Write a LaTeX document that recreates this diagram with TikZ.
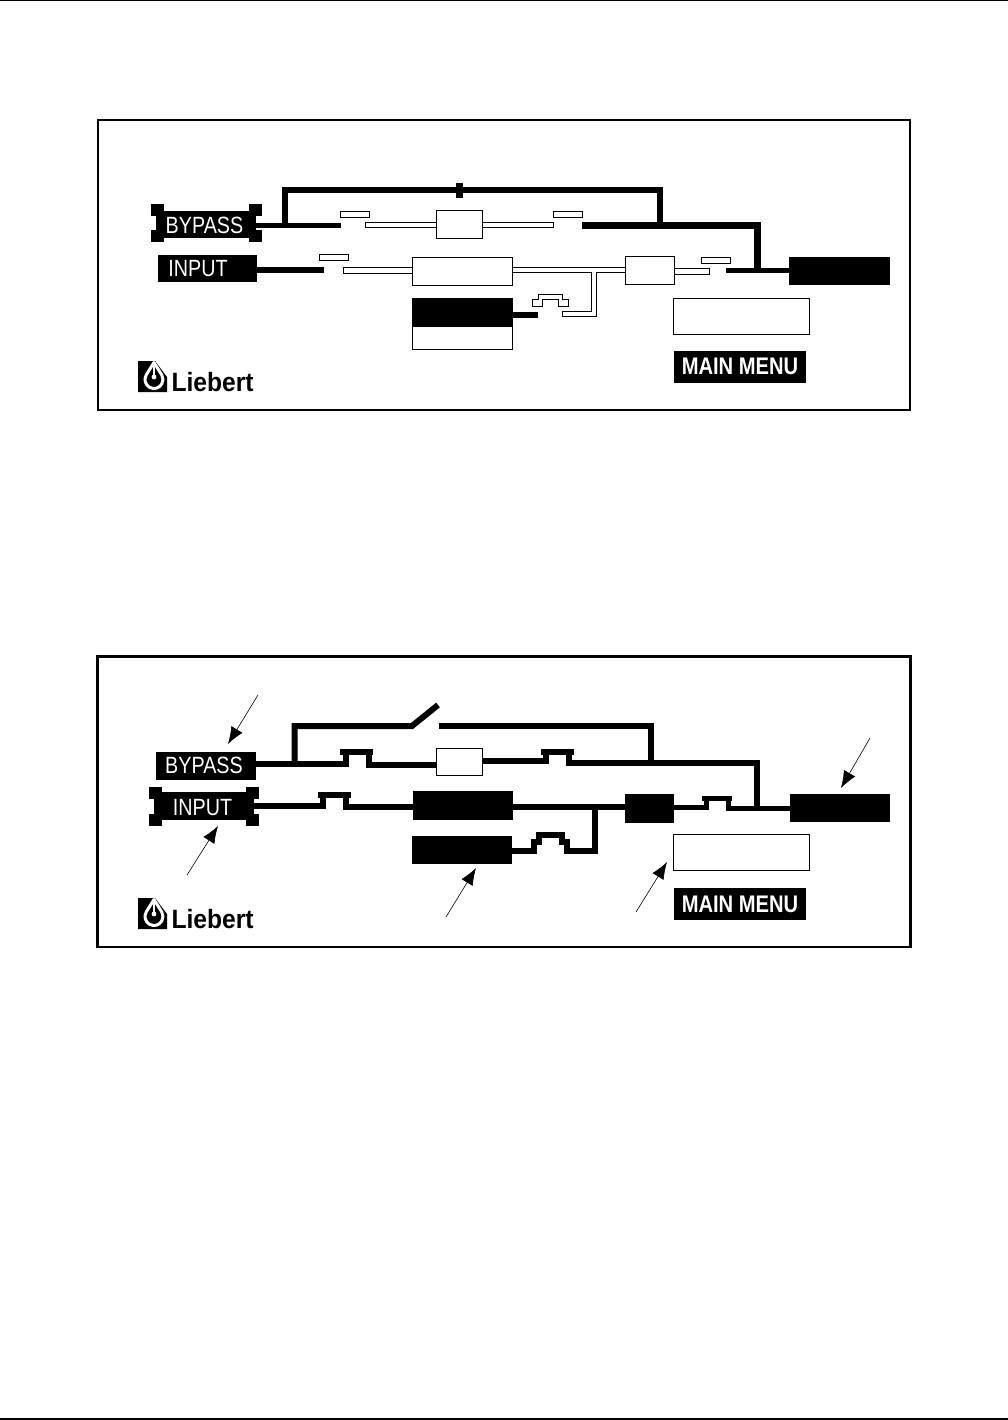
\documentclass[tikz,border=0pt]{standalone}
\usepackage{fontspec}
\usetikzlibrary{arrows.meta,backgrounds}
\newfontfamily\panelfont[FakeStretch=0.84]{Liberation Sans}
\newfontfamily\logofont[FakeStretch=0.93]{Liberation Sans}
\tikzstyle{every node}=[inner sep=0pt, outer sep=0pt]
\tikzstyle{darkbox}=[rectangle, fill=black, draw=none]
\tikzstyle{whitebox}=[rectangle, fill=white, draw=black, line width=1pt]
\tikzstyle{swbar}=[whitebox, minimum width=29pt, minimum height=6pt]
\tikzstyle{handle}=[darkbox, minimum width=13pt, minimum height=12pt]
\tikzstyle{brkbar}=[darkbox, minimum width=33pt, minimum height=6pt]
\tikzstyle{paneltext}=[text=white, font=\panelfont\fontsize{23.5}{24}\selectfont]
\tikzstyle{menutext}=[darkbox, text=white, minimum width=132pt, minimum height=32pt, font=\panelfont\bfseries\fontsize{24}{24}\selectfont]
\tikzstyle{live}=[draw=black, line width=6pt, miter limit=10]
\tikzstyle{dead}=[draw=white, line width=4.2pt, preaction={draw=black, line width=6.2pt, shorten >=-1pt, shorten <=-1pt}]
\tikzstyle{pointer}=[draw=black, line width=0.6pt, -{Latex[length=17pt, width=13pt]}]
\tikzset{liebertlogo/.pic={
    \fill[black] (0,0) -- (17,0) -- (29,16) -- (29,31) -- (0,31) -- cycle;
    \draw[white, line width=3pt, line join=round] (16,1.5) -- (8.2,14) arc[start angle=210, end angle=-30, radius=9] -- cycle;
    \draw[white, line width=2pt] (16,2) -- (16,14);
    \fill[white] (16,16) circle(2.4);
    \node[black, anchor=base west, font=\logofont\bfseries\fontsize{26.5}{27}\selectfont] (word) at (33.5,30.5) {Liebert};
}}

\begin{document}
\begin{tikzpicture}[x=1pt, y=-1pt]
\useasboundingbox (0,0) rectangle (1008,1420);
% Page rules
    \fill[black] (0,0) rectangle (1008,1.3);
    \fill[black] (0,1418.4) rectangle (1008,1419.7);
% Panel frames
    \draw[line width=2pt] (97.5,120.5) rectangle (910,410);
    \draw[line width=2.4pt] (97.5,656.5) rectangle (910.5,947);
% Upper panel boxes
    \node[handle] (bypassAnw) at (157.5,210) {};
    \node[handle] (bypassAne) at (255,210) {};
    \node[handle] (bypassAsw) at (157.5,236.5) {};
    \node[handle] (bypassAse) at (255,236.5) {};
    \node[darkbox, minimum width=100pt, minimum height=27pt] (bypassA) at (206,224.5) {};
    \node[paneltext] (bypassAtext) at (204.5,225.5) {BYPASS};
    \node[darkbox, minimum width=99pt, minimum height=27pt] (inputA) at (207.5,268.5) {};
    \node[paneltext] (inputAtext) at (198,269) {INPUT};
    \node[whitebox, minimum width=46pt, minimum height=28pt] (staticA) at (459,225) {};
    \node[whitebox, minimum width=100pt, minimum height=28pt] (rectA) at (462,272) {};
    \node[whitebox, minimum width=49pt, minimum height=28pt] (invA) at (649.5,271) {};
    \node[darkbox, minimum width=101pt, minimum height=28pt] (outputA) at (839.5,271) {};
    \node[whitebox, minimum width=100pt, minimum height=50pt] (battAlow) at (462,324) {};
    \node[darkbox, minimum width=100pt, minimum height=28pt] (battA) at (462,313) {};
    \node[whitebox, minimum width=136pt, minimum height=36pt] (dispA) at (741.5,316.5) {};
    \node[menutext] (menuA) at (740,366.5) {MAIN MENU};
    \node[swbar] (barA1) at (354.5,215) {};
    \node[swbar] (barA2) at (567.5,214.7) {};
    \node[swbar] (barA3) at (333.5,258) {};
    \node[swbar, minimum height=6.4pt] (barA4) at (716,260.4) {};
    \node[darkbox, minimum width=7pt, minimum height=15pt] (tickA) at (459.5,190.5) {};
    \pic (logoA) at (138,361) {liebertlogo};
% Upper panel lines
    \coordinate (busAl) at (285,225.5);
    \coordinate (busAr) at (660,225.5);
    \coordinate (busAtop) at (0,190);
    \coordinate (outAj) at (757,270.5);
    \coordinate (byAend) at (341,225.5);
    \coordinate (byAres) at (582,225.5);
    \coordinate (inAend) at (324,270);
    \coordinate (outAres) at (726,270.5);
    \coordinate (deadA1) at (366,225);
    \coordinate (deadA2) at (553,225);
    \coordinate (deadA3) at (344,270.5);
    \coordinate (deadA4) at (709,271.5);
    \coordinate (brAj) at (594,270);
    \coordinate (brAend) at (563,314);
    \coordinate (batAend) at (538,314.5);
    \begin{scope}[on background layer]
    \draw[live, line width=5pt] (bypassA.east |- byAend) -- (byAend);
    \draw[live, line width=5.3pt] (busAl) |- (busAtop -| busAr) -- (busAr);
    \draw[live, line width=7pt] (byAres) -| (outAj);
    \draw[live, line width=5.5pt] (outAres) -- (outputA.west |- outAres);
    \draw[live] (inputA.east |- inAend) -- (inAend);
    \draw[live] (battA.east |- batAend) -- (batAend);
    \draw[dead] (staticA.west |- deadA1) -- (deadA1);
    \draw[dead] (staticA.east |- deadA2) -- (deadA2);
    \draw[dead] (rectA.west |- deadA3) -- (deadA3);
    \draw[dead] (invA.east |- deadA4) -- (deadA4);
    \draw[dead] (rectA.east |- brAj) -- (invA.west |- brAj) (brAj) |- (brAend);
    \end{scope}
    \draw[whitebox, fill=white] (532.3,300) -- (538.3,300) -- (538.3,294.3) -- (562.7,294.3) -- (562.7,300) -- (568.7,300) -- (568.7,306.7) -- (558.3,306.7) -- (558.3,300) -- (542.7,300) -- (542.7,306.7) -- (532.3,306.7) -- cycle;
% Lower panel boxes
    \node[darkbox, minimum width=100pt, minimum height=28pt] (bypassB) at (206,766) {};
    \node[paneltext] (bypassBtext) at (204,765.5) {BYPASS};
    \node[handle] (inputBnw) at (155,793) {};
    \node[handle] (inputBne) at (252.5,793) {};
    \node[handle] (inputBsw) at (155,819.5) {};
    \node[handle] (inputBse) at (252.5,819.5) {};
    \node[darkbox, minimum width=100pt, minimum height=28pt] (inputB) at (204,806) {};
    \node[paneltext] (inputBtext) at (202.5,808) {INPUT};
    \node[whitebox, minimum width=46pt, minimum height=27.5pt] (staticB) at (459,762) {};
    \node[darkbox, minimum width=100pt, minimum height=29pt] (rectB) at (463,805.5) {};
    \node[darkbox, minimum width=49pt, minimum height=29pt] (invB) at (649.5,808.5) {};
    \node[darkbox, minimum width=100pt, minimum height=28pt] (outputB) at (840,808) {};
    \node[darkbox, minimum width=100pt, minimum height=28pt] (battB) at (462,850) {};
    \node[whitebox, minimum width=136pt, minimum height=36pt] (dispB) at (741.5,852.5) {};
    \node[menutext] (menuB) at (740,904) {MAIN MENU};
    \node[brkbar] (brkB1) at (356.5,752) {};
    \node[brkbar] (brkB2) at (557.5,752) {};
    \node[brkbar, minimum width=30pt, minimum height=5pt] (brkB3) at (717,798.5) {};
    \node[brkbar] (brkB4) at (334.5,794.5) {};
    \pic (logoB) at (138,898) {liebertlogo};
% Lower panel lines
    \coordinate (legB1a) at (345.5,764);
    \coordinate (legB1b) at (368.5,764.5);
    \coordinate (legB2a) at (545.5,761);
    \coordinate (legB2b) at (569,763);
    \coordinate (legB3a) at (706,807.5);
    \coordinate (legB3b) at (728.5,808);
    \coordinate (legB4a) at (322.5,806);
    \coordinate (legB4b) at (345.5,807);
    \coordinate (swBj) at (294.5,764);
    \coordinate (swBl) at (412,726);
    \coordinate (swBtip) at (438,705);
    \coordinate (swBr) at (439,726);
    \coordinate (swBdrop) at (650.5,763);
    \coordinate (legBout) at (756.5,808);
    \coordinate (brBj) at (594.5,807);
    \coordinate (brBa) at (534,851);
    \coordinate (brBb) at (566.7,851);
    \begin{scope}[on background layer]
    \draw[live] (bypassB.east |- legB1a) -- (legB1a) -- (legB1a |- brkB1);
    \draw[live] (legB1b |- brkB1) -- (legB1b) -- (staticB.west |- legB1b);
    \draw[live] (swBj) |- (swBl) -- (swBtip);
    \draw[live] (swBr) -| (swBdrop);
    \draw[live] (staticB.east |- legB2a) -- (legB2a) -- (legB2a |- brkB2);
    \draw[live] (legB2b |- brkB2) -- (legB2b) -| (legBout);
    \draw[live] (inputB.east |- legB4a) -- (legB4a) -- (legB4a |- brkB4);
    \draw[live] (legB4b |- brkB4) -- (legB4b) -- (rectB.west |- legB4b);
    \draw[live] (rectB.east |- brBj) -- (invB.west |- brBj);
    \draw[live] (battB.east |- brBa) -- (brBa) -- (534,842.3) -- (539.3,842.3) -- (539.3,835.3) -- (561.7,835.3) -- (561.7,842.3) -- (566.7,842.3) -- (brBb) -| (brBj);
    \draw[live, line width=5pt] (invB.east |- legB3a) -- (legB3a) -- (legB3a |- brkB3);
    \draw[live, line width=5pt] (legB3b |- brkB3) -- (legB3b) -- (outputB.west |- legB3b);
    \end{scope}
% Lower panel pointers
    \coordinate (ptrB1) at (258,695);
    \coordinate (tipB1) at (228,744);
    \coordinate (ptrB2) at (187,875);
    \coordinate (tipB2) at (218,826);
    \coordinate (ptrB3) at (446,917);
    \coordinate (tipB3) at (476,868);
    \coordinate (ptrB4) at (636,912);
    \coordinate (tipB4) at (667,862);
    \coordinate (ptrB5) at (870,738);
    \coordinate (tipB5) at (841,788);
    \draw[pointer] (ptrB1) -- (tipB1);
    \draw[pointer] (ptrB2) -- (tipB2);
    \draw[pointer] (ptrB3) -- (tipB3);
    \draw[pointer] (ptrB4) -- (tipB4);
    \draw[pointer] (ptrB5) -- (tipB5);
\end{tikzpicture}
\end{document}
